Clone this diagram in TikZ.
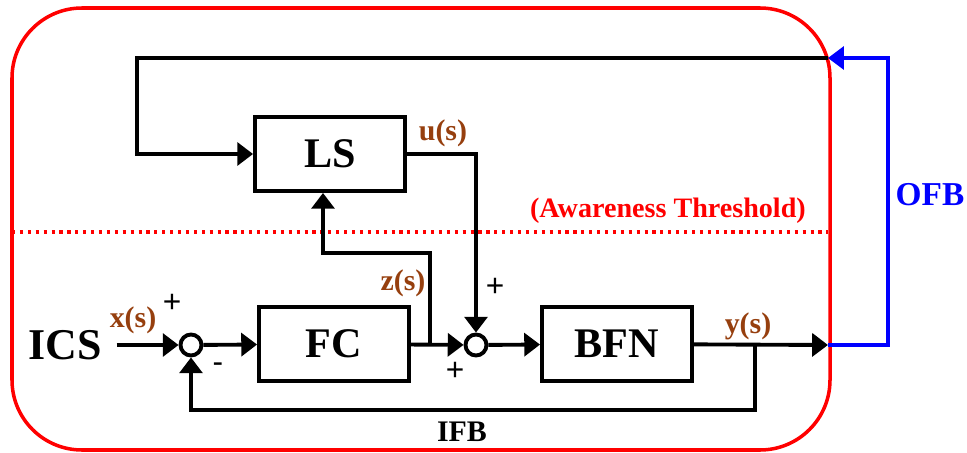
\documentclass[tikz,border=0pt]{standalone}
\usepackage{fontspec}
\setmainfont{Liberation Serif}
\setsansfont{Liberation Sans}
\usepackage{tikz}
\usetikzlibrary{positioning,arrows.meta,calc}
\definecolor{sigbrown}{HTML}{963F0E}

\begin{document}
\begin{tikzpicture}[x=0.02cm,y=-0.02cm,
  >={Triangle[length=9pt,width=13pt]},
  blk/.style={draw,line width=2.2pt,minimum width=3cm,minimum height=1.48cm,inner sep=0pt,font=\fontsize{24}{28}\selectfont\bfseries},
  sumnode/.style={circle,draw,line width=2.2pt,minimum size=0.42cm,inner sep=0pt},
  edg/.style={->,line width=2.2pt},
  sig/.style={font=\fontsize{17}{20}\selectfont\bfseries,text=sigbrown},
  sgn/.style={font=\sffamily\fontsize{18}{20}\selectfont},
  fb/.style={font=\fontsize{17}{20}\selectfont\bfseries}]

  \useasboundingbox (0,0) rectangle (967,453);

  % awareness boundary and threshold
  \draw[red,line width=2pt,rounded corners=1.4cm] (12,8) rectangle (830,450);
  \draw[red,line width=1.8pt,dash pattern=on 1.8pt off 2.7pt] (12,232) -- (828,232);
  \node[font=\fontsize{16}{18}\selectfont\bfseries,text=red,anchor=east] (thr) at (812,211) {(Awareness Threshold)};

  % blocks and summing junctions
  \node[blk] (ls)  at (330,154) {LS};
  \node[blk] (fc)  at (334,344) {FC};
  \node[blk] (bfn) at (617,344) {BFN};
  \node[sumnode] (s1) at (191,345) {};
  \node[sumnode] (s2) at (476,345) {};
  \node[font=\fontsize{25}{28}\selectfont\bfseries] (ics) at (65,345) {ICS};

  % branch points
  \coordinate (zt)  at (430,345);
  \coordinate (tap) at (755,345);
  \coordinate (out) at (828,345);
  \coordinate (top) at (828,58);

  % forward path
  \draw[edg,shorten <=5pt] (ics.east) -- (s1);
  \draw[edg] (s1) -- (fc);
  \draw[edg] (fc) -- (s2);
  \draw[edg] (s2) -- (bfn);
  \draw[edg] (bfn) -- (out);

  % inner feedback
  \draw[edg] (tap) -- (755,410) -| (s1.south);
  % to and from LS
  \draw[edg] (zt) -- (430,253) -| ([xshift=-0.14cm]ls.south);
  \draw[edg] (ls.east) -| (s2.north);
  \draw[edg] (top) -- (137,58) |- (ls.west);
  % outer feedback
  \draw[edg,blue,line width=1.8pt] (out) -- (888,345) |- (top);

  % labels
  \node[sig] (xs) at (133,320) {x(s)};
  \node[sig] (us) at (443,133) {u(s)};
  \node[sig] (zs) at (403,283) {z(s)};
  \node[sig] (ys) at (748,326) {y(s)};
  \node[sgn] (p1) at (172,303) {+};
  \node[sgn] (m1) at (218,368) {-};
  \node[sgn] (p2) at (495,287) {+};
  \node[sgn] (p3) at (455,371) {+};
  \node[fb] (ifb) at (462,432) {IFB};
  \node[fb,text=blue,font=\fontsize{19}{22}\selectfont\bfseries] (ofb) at (930,195) {OFB};
\end{tikzpicture}
\end{document}
